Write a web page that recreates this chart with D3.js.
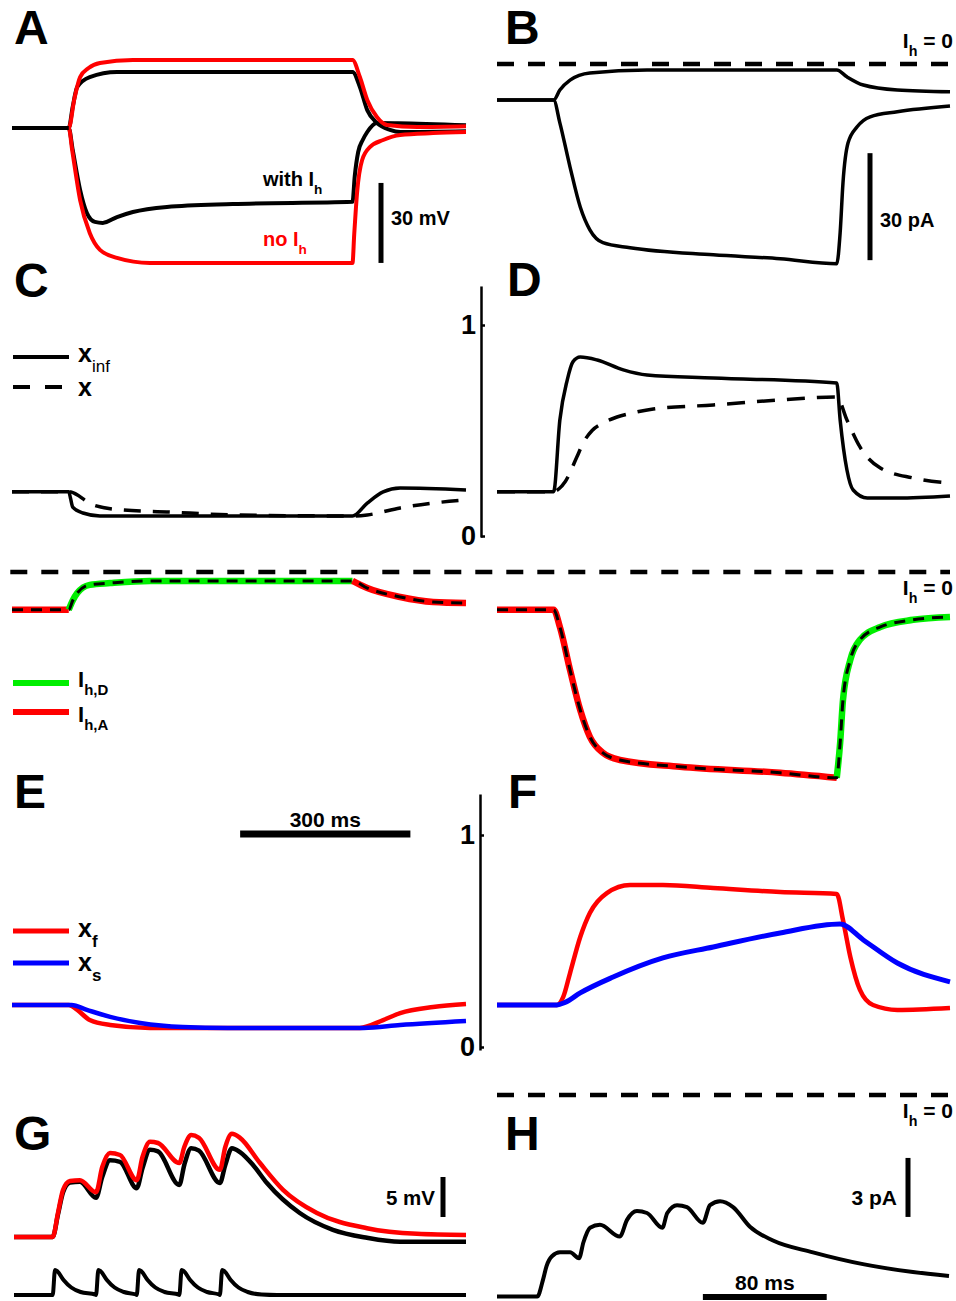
<!DOCTYPE html>
<html>
<head>
<meta charset="utf-8">
<script src="https://cdn.jsdelivr.net/npm/d3@7"></script>
<style>
body { margin: 0; background: #fff; }
text { font-family: "Liberation Sans", Arial, sans-serif; font-weight: bold; }
</style>
</head>
<body>
<svg id="fig"></svg>
<script>
// Time in ms, voltage in mV (relative to rest), current in pA, gating variables 0..1.
// A: voltage response to +/- current steps (step 100-600 ms)
var aNoIhUp = [[0,0],[100,0],[110,11],[120,19.1],[135,22.5],[155,24.4],[213,25.5],[600,25.5],[613,19.1],[626,10.5],[643,4.1],[661,1.1],[714,0.4],[800,0.7]];
var aIhUp = [[0,0],[100,0],[107,8],[115,15.4],[137,19.1],[185,21],[600,21],[613,15.4],[626,6.7],[643,1.9],[666,-0.7],[684,-1.5],[800,-1.2]];
var aIhDown = [[0,0],[100,0],[107,-8.2],[120,-23.2],[132,-31.9],[146,-35.2],[160,-35.6],[185,-33.4],[213,-31.5],[273,-29.6],[389,-28.5],[600,-27.7],[604,-18],[610,-9],[618,-4.5],[626,-1.5],[643,1.9],[680,1.8],[800,1.0]];
var aNoIhDown = [[0,0],[100,0],[106,-8.2],[120,-27],[137,-39.4],[155,-45.7],[185,-48.7],[243,-50.6],[600,-50.6],[603,-40],[608,-24.4],[617,-12],[631,-7.1],[654,-4.5],[684,-2.6],[742,-1.9],[800,-1.5]];

// B: Ih during the two steps
var bUp = [[0,-10.1],[100,-10.1],[111,-7.3],[129,-4.5],[164,-2.5],[265,-1.7],[600,-1.7],[618,-3.6],[647,-5.9],[707,-7.3],[800,-7.8]];
var bDown = [[0,-10.1],[100,-10.1],[111,-16.5],[129,-28.9],[147,-40.1],[164,-46.5],[187,-50.1],[235,-51.5],[382,-53.5],[500,-54.6],[600,-56],[606,-47.3],[611,-33.3],[620,-22.1],[636,-17.6],[659,-14.8],[707,-13.4],[800,-11.8]];

// C, D: x_inf and x
var cXinf = [[0,0.21],[100,0.21],[103,0.18],[107,0.137],[125,0.109],[155,0.095],[600,0.095],[626,0.156],[654,0.209],[684,0.227],[800,0.218]];
var cX = [[0,0.21],[100,0.21],[143,0.147],[196,0.123],[273,0.114],[389,0.1],[600,0.095],[626,0.1],[684,0.133],[742,0.156],[800,0.171]];
var dXinf = [[0,0.21],[100,0.21],[111,0.55],[124,0.739],[134,0.825],[147,0.848],[177,0.834],[223,0.787],[265,0.763],[382,0.749],[600,0.725],[606,0.55],[618,0.313],[629,0.218],[654,0.18],[707,0.18],[800,0.19]];
var dX = [[0,0.21],[100,0.21],[110,0.225],[120,0.256],[141,0.374],[152,0.44],[168,0.5],[187,0.535],[212,0.564],[239,0.583],[276,0.602],[382,0.621],[500,0.645],[600,0.659],[618,0.55],[641,0.422],[677,0.322],[735,0.275],[800,0.251]];

// Ih split into deactivating (D) / activating (A) phases
var ihLeft = [[0,-10.6],[100,-10.6],[107,-8],[115,-5.9],[137,-3.6],[173,-3.1],[243,-2.5],[600,-2.5],[626,-4.5],[684,-7.0],[742,-8.4],[800,-8.7]];
var ihRight = [[0,-10.6],[100,-10.6],[111,-15.4],[129,-27.5],[147,-38.7],[164,-46.2],[187,-50.7],[217,-52.7],[323,-54.6],[500,-56.3],[600,-57.7],[606,-47.9],[611,-35.9],[624,-24.6],[641,-19],[677,-15.4],[735,-13.4],[800,-12.6]];
var ihLeftPhases = [['A',0,100],['D',100,600],['A',600,800]];
var ihRightPhases = [['A',0,600],['D',600,800]];

// E, F: fast and slow gates
var eXf = [[0,0.198],[100,0.198],[115,0.175],[137,0.127],[173,0.104],[243,0.09],[613,0.09],[654,0.127],[684,0.16],[742,0.189],[800,0.203]];
var eXs = [[0,0.198],[105,0.198],[132,0.175],[173,0.142],[226,0.113],[301,0.094],[380,0.09],[620,0.09],[684,0.104],[800,0.123]];
var fXf = [[0,0.198],[106,0.198],[117,0.236],[129,0.349],[147,0.519],[164,0.632],[194,0.726],[235,0.764],[293,0.764],[382,0.75],[500,0.731],[600,0.722],[611,0.599],[624,0.425],[641,0.269],[664,0.198],[707,0.175],[800,0.184]];
var fXs = [[0,0.198],[106,0.198],[120,0.21],[147,0.255],[205,0.33],[293,0.42],[382,0.472],[500,0.538],[606,0.58],[647,0.505],[707,0.396],[800,0.307]];

// G: EPSP train with / without Ih, and the synaptic input
var gNoIh = [[0,0],[25,0],[28.4,3.0],[31.7,5.9],[36.2,7.0],[42.6,7.1],[53,5.6],[57,8.75],[62,10.5],[68.5,10.25],[79.3,7.1],[83,10],[87.9,11.9],[93,11.75],[106.8,9.25],[110,11.25],[114.5,12.75],[119.5,12.4],[133,8.4],[136.5,11.25],[140.8,12.9],[146,12.4],[158.9,9.25],[173.8,5.9],[195.7,3.0],[228,1.1],[260.3,0.4],[292,0.25]];
var gIh = [[0,0],[25,0],[28.4,2.8],[31.7,5.6],[36.2,6.8],[42.6,6.9],[53,4.9],[57,7.5],[62,9.6],[68.5,9.4],[79.3,6.1],[83,8.6],[87.9,10.9],[93,10.7],[106.8,6.5],[110,9.0],[114.5,11.1],[119.5,10.8],[133,6.75],[136.5,9.0],[140.8,11.1],[146,10.6],[154.4,9.0],[163.4,6.75],[184.6,3.0],[206,0.9],[228,-0.1],[249.4,-0.6],[292,-0.6]];
var gInput = [[0,0],[25,0],[26.5,1],[28,0.95],[32,0.6],[37,0.3],[43,0.12],[52.5,0.02],[53,0],[54.5,1],[56,0.95],[60,0.6],[65,0.3],[71,0.12],[78.8,0.02],[79.3,0],[80.8,1],[82.3,0.95],[86.3,0.6],[91.3,0.3],[97.3,0.12],[106.3,0.02],[106.8,0],[108.3,1],[109.8,0.95],[113.8,0.6],[118.8,0.3],[124.8,0.12],[132.5,0.02],[133,0],[134.5,1],[136,0.95],[140,0.6],[145,0.3],[151,0.12],[160,0.02],[170,0],[292,0]];

// H: Ih during the train
var hIh = [[0,-10.25],[26,-10.25],[29.7,-9.4],[32,-8.7],[35.5,-8.2],[40.7,-8.0],[47.2,-8.0],[53,-8.3],[55.8,-7.5],[60.1,-6.75],[66.5,-6.6],[79.3,-7.2],[84,-6.35],[90.4,-5.9],[96.9,-6.0],[106.8,-6.75],[110,-6.0],[116.3,-5.6],[122.7,-5.7],[133,-6.5],[137.6,-5.6],[144.1,-5.4],[152.5,-5.7],[163.4,-6.7],[178.3,-7.4],[204.1,-8.0],[236.4,-8.6],[268.7,-9.0],[292,-9.2]];

var phaseColor = {D: '#00ee00', A: '#ff0000'};

var svg = d3.select('#fig').attr('width', 956).attr('height', 1301);

// scales
var xL = d3.scaleLinear().domain([0, 800]).range([12, 466]);
var xR = d3.scaleLinear().domain([0, 800]).range([497, 950]);
var xGL = d3.scaleLinear().domain([0, 292]).range([14, 466]);
var xGR = d3.scaleLinear().domain([0, 292]).range([497, 949]);
var yA = d3.scaleLinear().domain([0, 30]).range([128, 48]);
var yB = d3.scaleLinear().domain([0, -30]).range([64, 171]);
var yCD = d3.scaleLinear().domain([0, 1]).range([536, 325]);
var yIh = d3.scaleLinear().domain([0, -30]).range([572, 679]);
var yEF = d3.scaleLinear().domain([0, 1]).range([1047, 835]);
var yG = d3.scaleLinear().domain([0, 5]).range([1237, 1197]);
var yIn = d3.scaleLinear().domain([0, 1]).range([1295, 1270]);
var yH = d3.scaleLinear().domain([0, -3]).range([1095, 1154]);

function trace(x, y, data, color, width, dash) {
	var line = d3.line()
		.x(function(d) { return x(d[0]); })
		.y(function(d) { return y(d[1]); })
		.curve(d3.curveMonotoneX);
	var p = svg.append('path')
		.datum(data)
		.attr('d', line)
		.attr('fill', 'none')
		.attr('stroke', color)
		.attr('stroke-width', width)
		.attr('stroke-linejoin', 'round');
	if (dash) p.attr('stroke-dasharray', dash);
	return p;
}

function hline(x1, x2, y, color, width, dash) {
	var l = svg.append('line')
		.attr('x1', x1).attr('x2', x2).attr('y1', y).attr('y2', y)
		.attr('stroke', color).attr('stroke-width', width);
	if (dash) l.attr('stroke-dasharray', dash);
	return l;
}

function vbar(x, y1, y2, width) {
	svg.append('line')
		.attr('x1', x).attr('x2', x).attr('y1', y1).attr('y2', y2)
		.attr('stroke', '#000').attr('stroke-width', width);
}

// text with one subscript: main, sub, rest
function subText(x, y, main, sub, rest, size, color, anchor, subWeight) {
	var t = svg.append('text')
		.attr('x', x).attr('y', y)
		.attr('font-size', size)
		.attr('fill', color || '#000')
		.attr('text-anchor', anchor || 'start');
	t.append('tspan').text(main);
	t.append('tspan')
		.attr('dy', size * 0.38)
		.attr('font-size', size * 0.68)
		.attr('font-weight', subWeight || 'bold')
		.text(sub);
	if (rest) t.append('tspan').attr('dy', -size * 0.38).attr('font-size', size).text(rest);
	return t;
}

function plain(x, y, s, size, anchor, color) {
	svg.append('text').attr('x', x).attr('y', y)
		.attr('font-size', size).attr('text-anchor', anchor || 'start')
		.attr('fill', color || '#000').text(s);
}

function probAxis(x0, y, lo, hi) {
	var s = y.copy().domain([lo, hi]).range([y(lo), y(hi)]);
	var g = svg.append('g')
		.attr('transform', 'translate(' + x0 + ',0)')
		.call(d3.axisLeft(s).tickValues([0, 1]).tickFormat(d3.format('d'))
			.tickSizeInner(-4).tickSizeOuter(0).tickPadding(5));
	g.attr('font-family', null).attr('font-size', null);
	g.select('.domain').attr('stroke-width', 2.5);
	g.selectAll('.tick line').attr('stroke-width', 2.5);
	g.selectAll('.tick text').attr('font-size', 27);
}

// panel letters
[['A', 14, 44], ['B', 505, 44], ['C', 14, 297], ['D', 507, 296],
 ['E', 14, 808], ['F', 508, 808], ['G', 14, 1150], ['H', 505, 1150]].forEach(function(p) {
	plain(p[1], p[2], p[0], 48);
});

// ---- A ----
trace(xL, yA, aIhUp, '#000', 4);
trace(xL, yA, aIhDown, '#000', 4);
trace(xL, yA, aNoIhUp, '#ff0000', 4);
trace(xL, yA, aNoIhDown, '#ff0000', 4);
// redraw black over red where they overlap at the start
trace(xL, yA, aIhUp.slice(0, 2), '#000', 4);
subText(263, 186, 'with I', 'h', null, 20, '#000');
subText(263, 246, 'no I', 'h', null, 20, '#ff0000');
vbar(381, yA(-50.6), yA(-50.6 + 30), 5);
plain(391, 225, '30 mV', 20);

// ---- B ----
hline(xR(0), xR(800), yB(0), '#000', 4.5, '17,14');
subText(953, 48, 'I', 'h', ' = 0', 21, '#000', 'end');
trace(xR, yB, bUp, '#000', 3.5);
trace(xR, yB, bDown, '#000', 3.5);
vbar(870, yB(-55), yB(-55 + 30), 5);
plain(880, 227, '30 pA', 20);

// ---- C / D ----
probAxis(481, yCD, -0.005, 1.185);
trace(xL, yCD, cX, '#000', 3.5, '17,12');
trace(xL, yCD, cXinf, '#000', 3.5);
trace(xR, yCD, dX, '#000', 3.5, '18,12');
trace(xR, yCD, dXinf, '#000', 3.5);
hline(13, 69, 357, '#000', 4);
hline(13, 69, 387, '#000', 4, '17,15');
subText(78, 362, 'x', 'inf', null, 25, '#000', 'start', 'normal');
plain(78, 396, 'x', 25);

// ---- Ih phases ----
hline(xL(-3), xR(800), yIh(0), '#000', 4.5, '17,14');
subText(953, 595, 'I', 'h', ' = 0', 21, '#000', 'end');
function phased(x, data, phases) {
	phases.forEach(function(p) {
		var seg = data.filter(function(d) { return d[0] >= p[1] && d[0] <= p[2]; });
		trace(x, yIh, seg, phaseColor[p[0]], 6.5);
	});
	trace(x, yIh, data, '#000', 3, '11,8');
}
phased(xL, ihLeft, ihLeftPhases);
phased(xR, ihRight, ihRightPhases);
hline(13, 69, 683, phaseColor.D, 6);
hline(13, 69, 712, phaseColor.A, 6);
subText(78, 687, 'I', 'h,D', null, 22, '#000');
subText(78, 722, 'I', 'h,A', null, 22, '#000');

// ---- E / F ----
probAxis(480, yEF, -0.014, 1.193);
trace(xL, yEF, eXf, '#ff0000', 4.5);
trace(xL, yEF, eXs, '#0000ff', 4.5);
trace(xR, yEF, fXf, '#ff0000', 4.5);
trace(xR, yEF, fXs, '#0000ff', 5);
hline(13, 69, 931, '#ff0000', 5);
hline(13, 69, 963, '#0000ff', 5);
subText(78, 937, 'x', 'f', null, 25, '#000');
subText(78, 971, 'x', 's', null, 25, '#000');
hline(xL(402), xL(402 + 300), 834, '#000', 7);
plain(xL(552), 827, '300 ms', 21, 'middle');

// ---- G ----
trace(xGL, yG, gIh, '#000', 4.5);
trace(xGL, yG, gNoIh, '#ff0000', 4.5);
trace(xGL, yIn, gInput, '#000', 4);
vbar(443, yG(2.5), yG(2.5 + 5), 5);
plain(435, 1205, '5 mV', 20.5, 'end');

// ---- H ----
hline(xGR(0), xGR(292), yH(0), '#000', 4.5, '17,14');
subText(953, 1118, 'I', 'h', ' = 0', 21, '#000', 'end');
trace(xGR, yH, hIh, '#000', 4);
vbar(908, yH(-3.2), yH(-3.2 - 3), 5);
plain(897, 1205, '3 pA', 21, 'end');
hline(xGR(133), xGR(133 + 80), 1297, '#000', 6);
plain(xGR(173), 1290, '80 ms', 21, 'middle');
</script>
</body>
</html>
